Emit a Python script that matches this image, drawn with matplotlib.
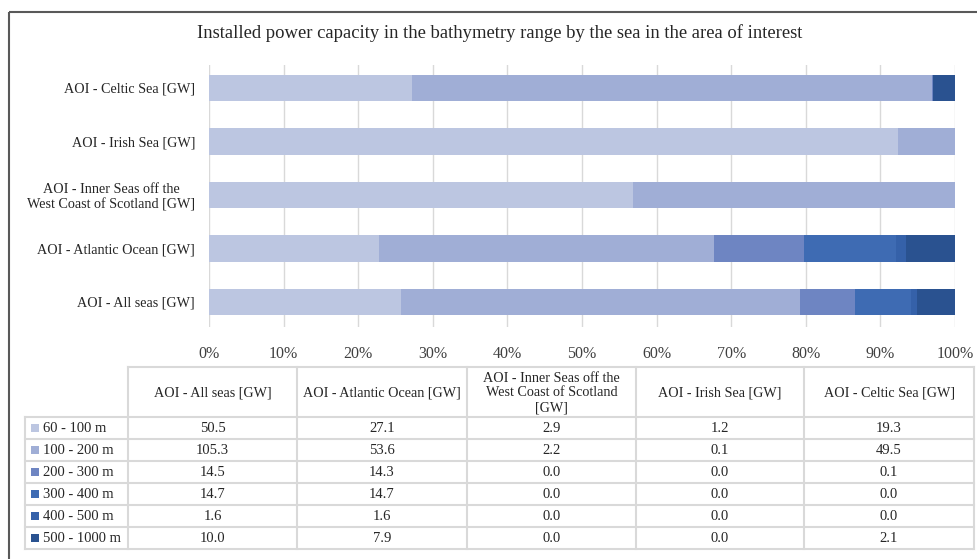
import matplotlib.pyplot as plt
import numpy as np
from matplotlib.patches import Rectangle

# data
seas = ['AOI - All seas [GW]', 'AOI - Atlantic Ocean [GW]',
        'AOI - Inner Seas off the\nWest Coast of Scotland [GW]',
        'AOI - Irish Sea [GW]', 'AOI - Celtic Sea [GW]']
ranges = ['60 - 100 m', '100 - 200 m', '200 - 300 m', '300 - 400 m',
          '400 - 500 m', '500 - 1000 m']
values = {
    '60 - 100 m':   [50.5, 27.1, 2.9, 1.2, 19.3],
    '100 - 200 m':  [105.3, 53.6, 2.2, 0.1, 49.5],
    '200 - 300 m':  [14.5, 14.3, 0.0, 0.0, 0.1],
    '300 - 400 m':  [14.7, 14.7, 0.0, 0.0, 0.0],
    '400 - 500 m':  [1.6, 1.6, 0.0, 0.0, 0.0],
    '500 - 1000 m': [10.0, 7.9, 0.0, 0.0, 2.1],
}
colors = ['#bcc6e1', '#a0aed6', '#6e85c2', '#3e6bb3', '#3561a9', '#2a5290']
header_labels = ['AOI - All seas [GW]', 'AOI - Atlantic Ocean [GW]',
                 'AOI - Inner Seas off the\nWest Coast of Scotland\n[GW]',
                 'AOI - Irish Sea [GW]', 'AOI - Celtic Sea [GW]']

plt.rcParams['font.family'] = 'Liberation Serif'
W, H = 978, 559
fig = plt.figure(figsize=(W / 100, H / 100), dpi=100)

# frame around the figure
frame = fig.add_axes([0, 0, 1, 1], zorder=-1)
frame.set_xlim(0, W)
frame.set_ylim(H, 0)
frame.axis('off')
frame.add_patch(Rectangle((8.5, 11.5), W, H, fill=False, edgecolor='#595959', lw=1.5))

fig.text(500 / W, 1 - 33 / H,
         'Installed power capacity in the bathymetry range by the sea in the area of interest',
         ha='center', va='center', fontsize=13.4, color='#262626')

# stacked 100% bar chart
ax = fig.add_axes([209 / W, 1 - 327 / H, 746 / W, 262 / H])
arr = np.array([values[r] for r in ranges])
pct = arr / arr.sum(axis=0) * 100
y = np.arange(len(seas))
left = np.zeros(len(seas))
for i, r in enumerate(ranges):
    ax.barh(y, pct[i], left=left, height=0.5, color=colors[i], zorder=2)
    left += pct[i]
ax.set_xlim(0, 100)
ax.set_ylim(-0.47, 4.43)
ax.set_xticks(np.arange(0, 101, 10))
ax.set_xticklabels([f'{v}%' for v in range(0, 101, 10)], fontsize=11.5, color='#404040')
ax.set_yticks(y)
ax.set_yticklabels(seas, fontsize=10.2, color='#262626', linespacing=1.15,
                   multialignment='center')
ax.tick_params(axis='x', length=0, pad=14)
ax.tick_params(axis='y', length=0, pad=10)
ax.grid(axis='x', color='#d9d9d9', lw=1, zorder=0)
for s in ax.spines.values():
    s.set_visible(False)

# data table below the chart
tb = fig.add_axes([0, 0, 1, 1])
tb.set_xlim(0, W)
tb.set_ylim(H, 0)
tb.axis('off')
xs = [25, 128, 297, 467, 636, 804, 974]
ys = [367, 417, 439, 461, 483, 505, 527, 549]
lc = '#d9d9d9'
for yy in ys:
    x0 = xs[1] if yy == ys[0] else xs[0]
    tb.plot([x0, xs[-1]], [yy, yy], color=lc, lw=1.5)
for xx in xs:
    y0 = ys[1] if xx == xs[0] else ys[0]
    tb.plot([xx, xx], [y0, ys[-1]], color=lc, lw=1.5)
for j, h in enumerate(header_labels):
    tb.text((xs[j + 1] + xs[j + 2]) / 2, (ys[0] + ys[1]) / 2 + 1, h,
            ha='center', va='center', fontsize=10.2, color='#262626', linespacing=1.2)
for i, r in enumerate(ranges):
    yc = (ys[i + 1] + ys[i + 2]) / 2
    tb.add_patch(Rectangle((31, yc - 4), 8, 8, color=colors[i], lw=0))
    tb.text(43, yc, r, ha='left', va='center', fontsize=10.5, color='#262626')
    for j, v in enumerate(values[r]):
        tb.text((xs[j + 1] + xs[j + 2]) / 2, yc, f'{v:.1f}',
                ha='center', va='center', fontsize=10.5, color='#262626')

fig.savefig('out.png', dpi=100)
